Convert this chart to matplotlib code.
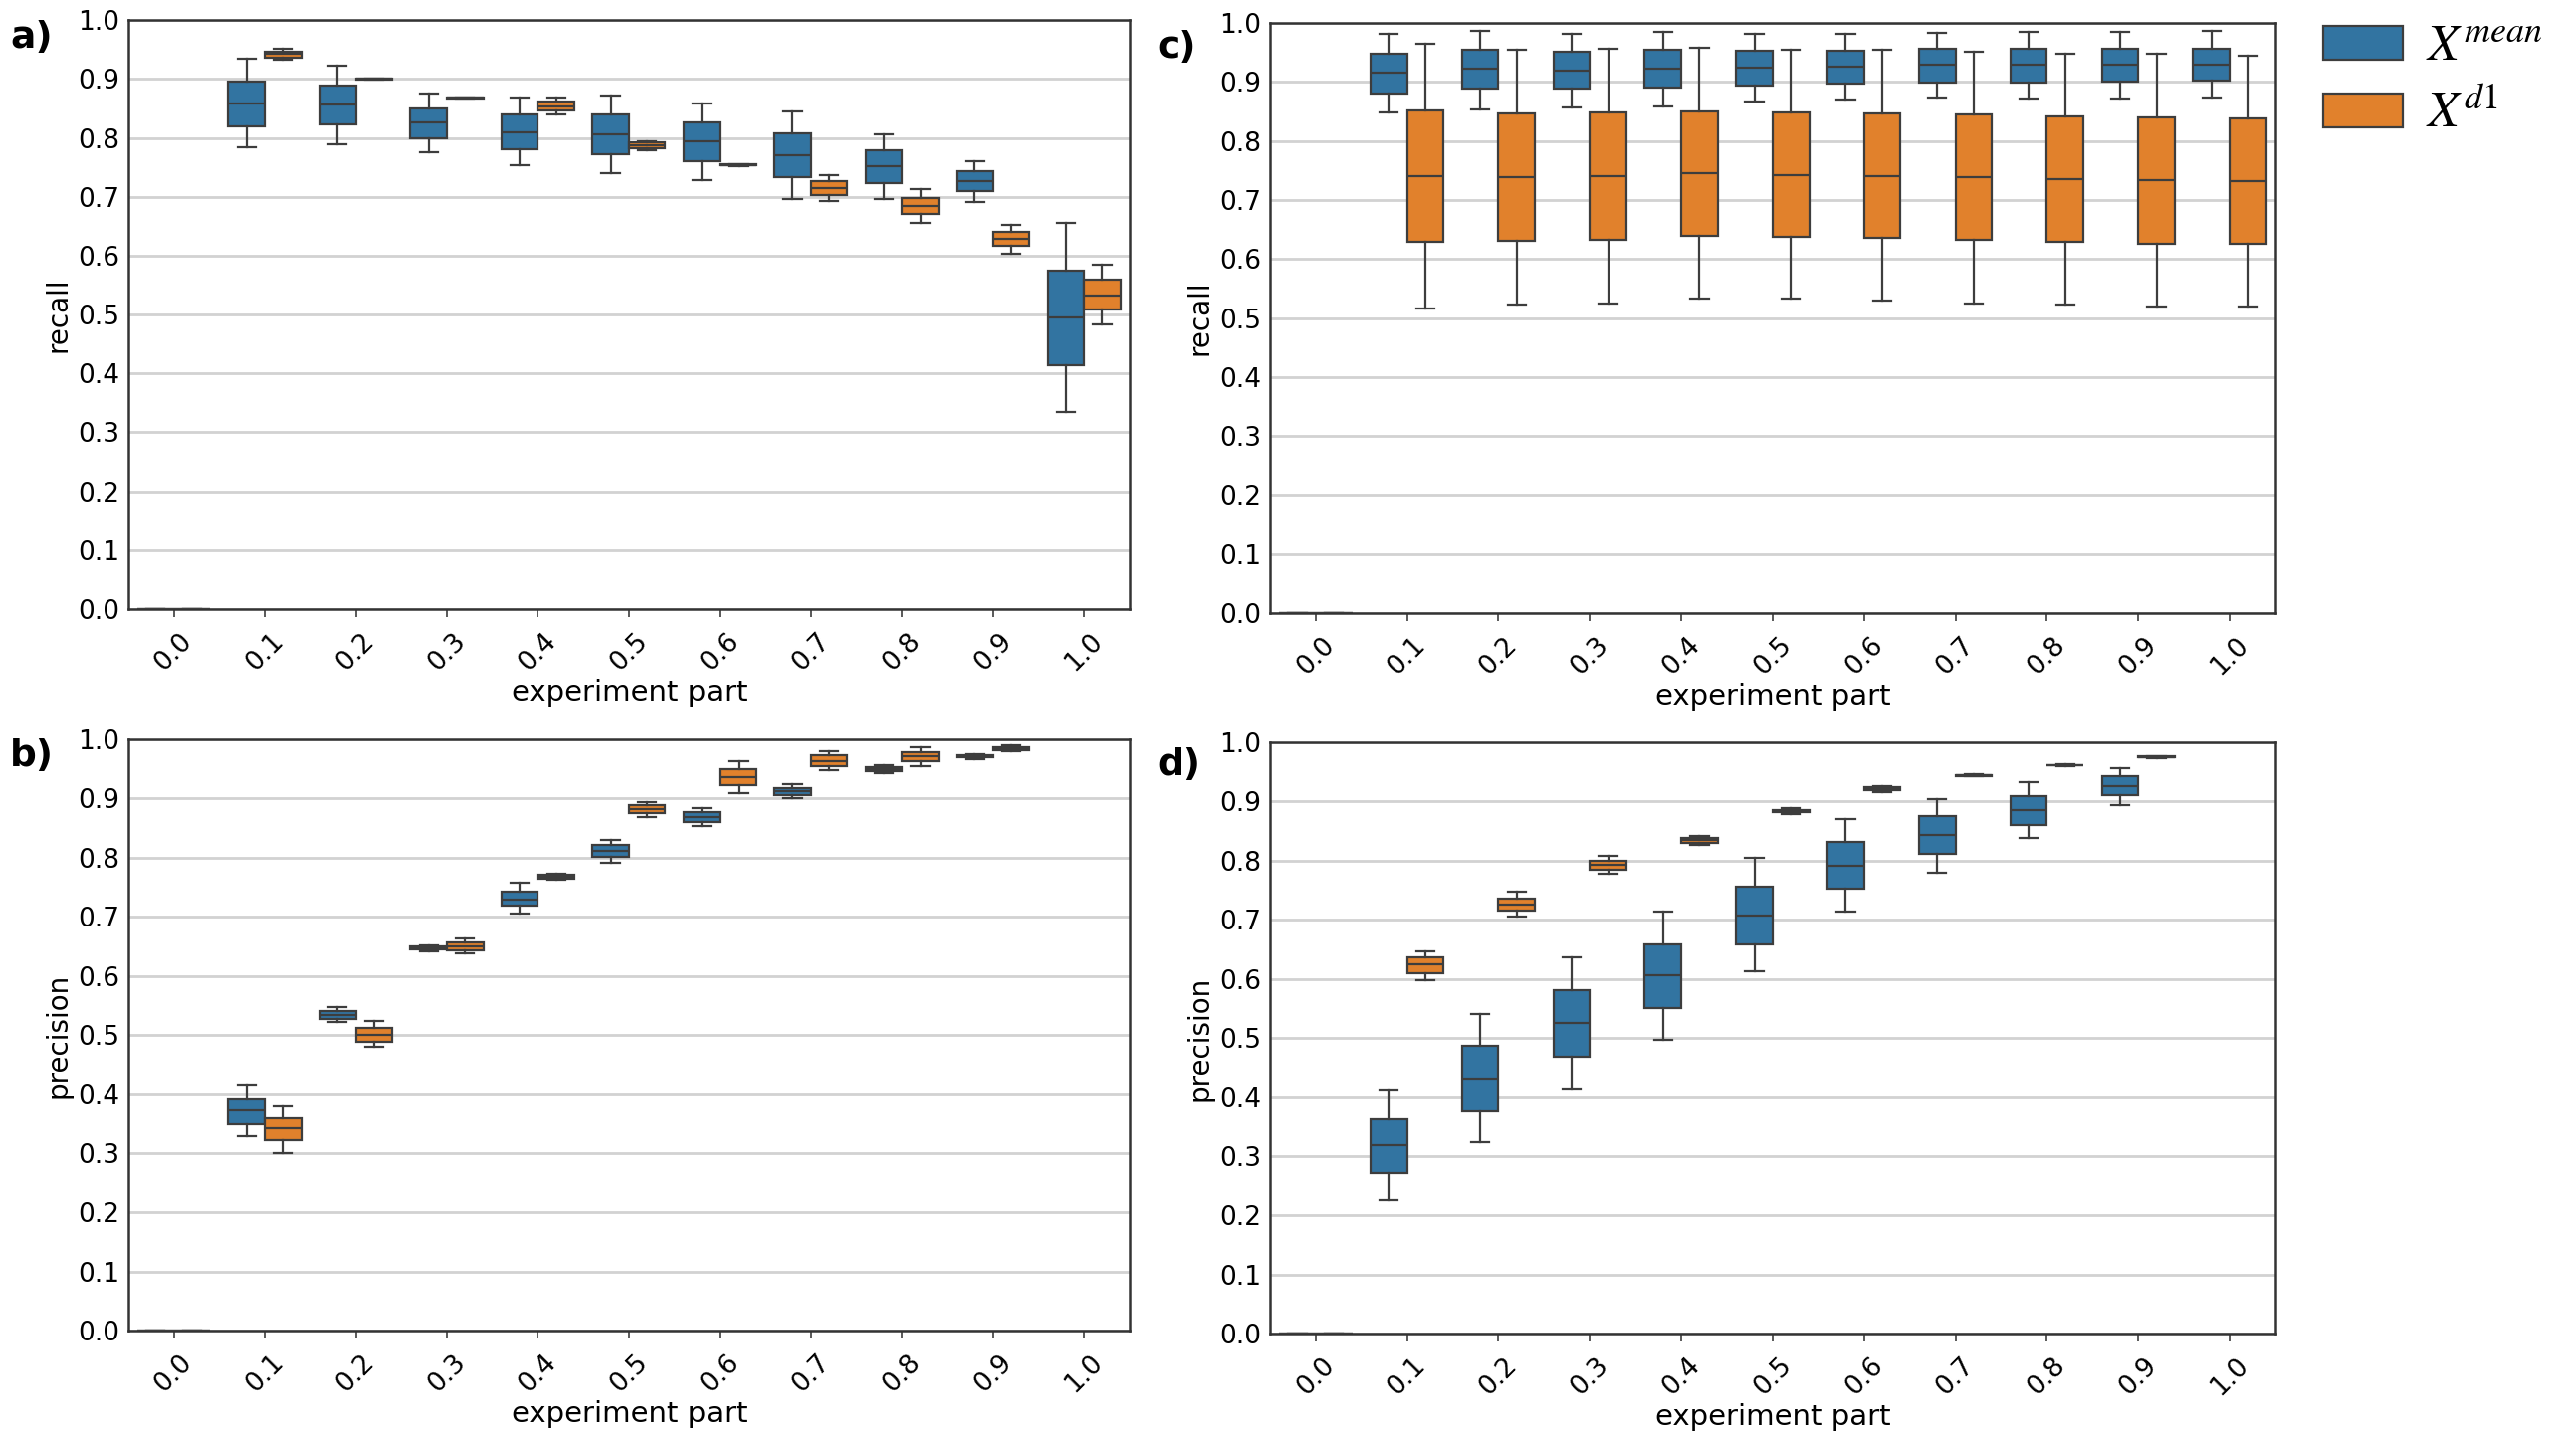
import numpy as np
import matplotlib
matplotlib.use("Agg")
import matplotlib.pyplot as plt
from matplotlib.patches import Patch

# category labels on the x axis
parts = ["0.0", "0.1", "0.2", "0.3", "0.4", "0.5", "0.6", "0.7", "0.8", "0.9", "1.0"]

# box stats per category: whislo, q1, med, q3, whishi  (None = no data)
# a) recall, X^mean
a_mean = [(0, 0, 0, 0, 0),
          (0.784, 0.820, 0.859, 0.895, 0.934),
          (0.789, 0.822, 0.856, 0.888, 0.923),
          (0.775, 0.800, 0.826, 0.850, 0.875),
          (0.754, 0.781, 0.810, 0.840, 0.868),
          (0.740, 0.772, 0.806, 0.840, 0.872),
          (0.729, 0.761, 0.794, 0.826, 0.858),
          (0.696, 0.733, 0.770, 0.808, 0.844),
          (0.696, 0.723, 0.752, 0.779, 0.806),
          (0.691, 0.709, 0.727, 0.743, 0.761),
          (0.334, 0.414, 0.495, 0.575, 0.655)]
# a) recall, X^d1
a_d1 = [(0, 0, 0, 0, 0),
        (0.932, 0.936, 0.942, 0.947, 0.951),
        (0.899, 0.8995, 0.900, 0.9005, 0.901),
        (0.867, 0.8675, 0.868, 0.8685, 0.869),
        (0.840, 0.846, 0.854, 0.861, 0.868),
        (0.779, 0.783, 0.788, 0.792, 0.794),
        (0.752, 0.753, 0.754, 0.755, 0.756),
        (0.692, 0.703, 0.714, 0.727, 0.737),
        (0.656, 0.670, 0.685, 0.698, 0.713),
        (0.603, 0.616, 0.629, 0.640, 0.652),
        (0.484, 0.508, 0.533, 0.559, 0.584)]

# b) precision, X^mean
b_mean = [(0, 0, 0, 0, 0),
          (0.328, 0.350, 0.373, 0.393, 0.416),
          (0.521, 0.527, 0.534, 0.540, 0.547),
          (0.642, 0.644, 0.647, 0.649, 0.652),
          (0.706, 0.718, 0.729, 0.743, 0.757),
          (0.792, 0.801, 0.811, 0.821, 0.830),
          (0.853, 0.861, 0.869, 0.877, 0.884),
          (0.900, 0.906, 0.912, 0.918, 0.924),
          (0.943, 0.946, 0.949, 0.953, 0.956),
          (0.967, 0.969, 0.971, 0.973, 0.974),
          None]
# b) precision, X^d1
b_d1 = [(0, 0, 0, 0, 0),
        (0.300, 0.321, 0.343, 0.360, 0.380),
        (0.479, 0.488, 0.500, 0.511, 0.523),
        (0.638, 0.643, 0.650, 0.656, 0.663),
        (0.763, 0.765, 0.768, 0.771, 0.773),
        (0.869, 0.876, 0.882, 0.888, 0.894),
        (0.909, 0.922, 0.936, 0.950, 0.963),
        (0.948, 0.955, 0.963, 0.973, 0.980),
        (0.955, 0.963, 0.972, 0.978, 0.986),
        (0.979, 0.981, 0.984, 0.987, 0.990),
        None]

# c) recall, X^mean
c_mean = [(0, 0, 0, 0, 0),
          (0.848, 0.881, 0.915, 0.947, 0.981),
          (0.854, 0.889, 0.922, 0.954, 0.987),
          (0.857, 0.888, 0.919, 0.951, 0.981),
          (0.859, 0.890, 0.923, 0.954, 0.985),
          (0.866, 0.894, 0.924, 0.952, 0.981),
          (0.870, 0.897, 0.926, 0.953, 0.981),
          (0.873, 0.899, 0.929, 0.956, 0.983),
          (0.872, 0.899, 0.929, 0.957, 0.985),
          (0.872, 0.900, 0.930, 0.957, 0.985),
          (0.873, 0.902, 0.930, 0.957, 0.987)]
# c) recall, X^d1
c_d1 = [(0, 0, 0, 0, 0),
        (0.516, 0.629, 0.740, 0.852, 0.965),
        (0.522, 0.630, 0.738, 0.846, 0.955),
        (0.524, 0.633, 0.740, 0.848, 0.957),
        (0.533, 0.639, 0.745, 0.850, 0.958),
        (0.533, 0.638, 0.742, 0.848, 0.955),
        (0.529, 0.635, 0.741, 0.847, 0.955),
        (0.525, 0.632, 0.739, 0.845, 0.951),
        (0.523, 0.629, 0.736, 0.842, 0.948),
        (0.520, 0.626, 0.734, 0.839, 0.947),
        (0.520, 0.625, 0.732, 0.838, 0.945)]

# d) precision, X^mean
d_mean = [(0, 0, 0, 0, 0),
          (0.225, 0.271, 0.319, 0.364, 0.413),
          (0.324, 0.377, 0.431, 0.486, 0.540),
          (0.414, 0.468, 0.526, 0.581, 0.637),
          (0.496, 0.550, 0.606, 0.659, 0.713),
          (0.612, 0.659, 0.707, 0.756, 0.804),
          (0.713, 0.752, 0.792, 0.832, 0.871),
          (0.780, 0.811, 0.843, 0.875, 0.904),
          (0.838, 0.861, 0.886, 0.909, 0.933),
          (0.894, 0.910, 0.926, 0.942, 0.956),
          None]
# d) precision, X^d1
d_d1 = [(0, 0, 0, 0, 0),
        (0.597, 0.610, 0.624, 0.636, 0.647),
        (0.705, 0.715, 0.725, 0.735, 0.747),
        (0.777, 0.785, 0.793, 0.800, 0.808),
        (0.827, 0.830, 0.835, 0.839, 0.842),
        (0.879, 0.882, 0.884, 0.886, 0.889),
        (0.916, 0.919, 0.922, 0.925, 0.926),
        (0.942, 0.943, 0.944, 0.945, 0.946),
        (0.960, 0.961, 0.962, 0.962, 0.963),
        (0.973, 0.974, 0.975, 0.976, 0.977),
        None]

blue = "#3274a1"
orange = "#e1812c"
edge = "#3d3d3d"


def to_stats(rows):
    stats, idx = [], []
    for i, r in enumerate(rows):
        if r is None:
            continue
        lo, q1, med, q3, hi = r
        stats.append(dict(whislo=lo, q1=q1, med=med, q3=q3, whishi=hi, fliers=[]))
        idx.append(i)
    return stats, np.array(idx)


def draw_panel(ax, mean_rows, d1_rows, ylabel, tag, tag_xy):
    for rows, off, col in [(mean_rows, -0.2, blue), (d1_rows, 0.2, orange)]:
        stats, idx = to_stats(rows)
        ax.bxp(stats, positions=idx + off, widths=0.4, patch_artist=True,
               showfliers=False, capwidths=0.2,
               boxprops=dict(facecolor=col, edgecolor=edge, linewidth=1.6),
               medianprops=dict(color=edge, linewidth=1.6),
               whiskerprops=dict(color=edge, linewidth=1.6),
               capprops=dict(color=edge, linewidth=1.6),
               manage_ticks=False, zorder=3)
    ax.set_xlim(-0.5, len(parts) - 0.5)
    ax.set_ylim(0, 1.0)
    ax.set_xticks(range(len(parts)))
    ax.set_xticklabels(parts, rotation=45, ha="center", fontsize=19)
    ax.set_yticks(np.arange(0, 1.01, 0.1))
    ax.set_yticklabels(["%.1f" % v for v in np.arange(0, 1.01, 0.1)], fontsize=19)
    ax.tick_params(axis="x", length=6, width=1.2, color=edge, pad=8)
    ax.tick_params(axis="y", length=0, pad=6)
    ax.yaxis.grid(True, color="#d2d2d2", linewidth=2)
    ax.set_axisbelow(True)
    for s in ax.spines.values():
        s.set_color("#333333")
        s.set_linewidth(1.8)
    ax.set_xlabel("experiment part", fontsize=21, labelpad=2)
    ax.set_ylabel(ylabel, fontsize=20)
    fig.text(tag_xy[0], tag_xy[1], tag, fontsize=27, fontweight="bold",
             ha="left", va="center")


plt.rcParams["mathtext.fontset"] = "stix"
fig = plt.figure(figsize=(25.88, 14.48), dpi=100)

ax_a = fig.add_axes([0.0498, 0.5773, 0.3887, 0.4088])
ax_c = fig.add_axes([0.4930, 0.5746, 0.3903, 0.4095])
ax_b = fig.add_axes([0.0498, 0.0767, 0.3887, 0.4102])
ax_d = fig.add_axes([0.4930, 0.0746, 0.3903, 0.4102])

draw_panel(ax_a, a_mean, a_d1, "recall", "a)", (0.004, 0.974))
draw_panel(ax_c, c_mean, c_d1, "recall", "c)", (0.449, 0.967))
draw_panel(ax_b, b_mean, b_d1, "precision", "b)", (0.004, 0.475))
draw_panel(ax_d, d_mean, d_d1, "precision", "d)", (0.449, 0.469))

handles = [Patch(facecolor=blue, edgecolor=edge, linewidth=1.6),
           Patch(facecolor=orange, edgecolor=edge, linewidth=1.6)]
fig.legend(handles, ["$X^{mean}$", "$X^{d1}$"], loc="upper left",
           bbox_to_anchor=(0.902, 0.985), frameon=False, fontsize=37,
           borderpad=0, borderaxespad=0,
           handlelength=1.55, handleheight=0.65, labelspacing=0.35, handletextpad=0.45)

fig.savefig("out.png", dpi=100)
